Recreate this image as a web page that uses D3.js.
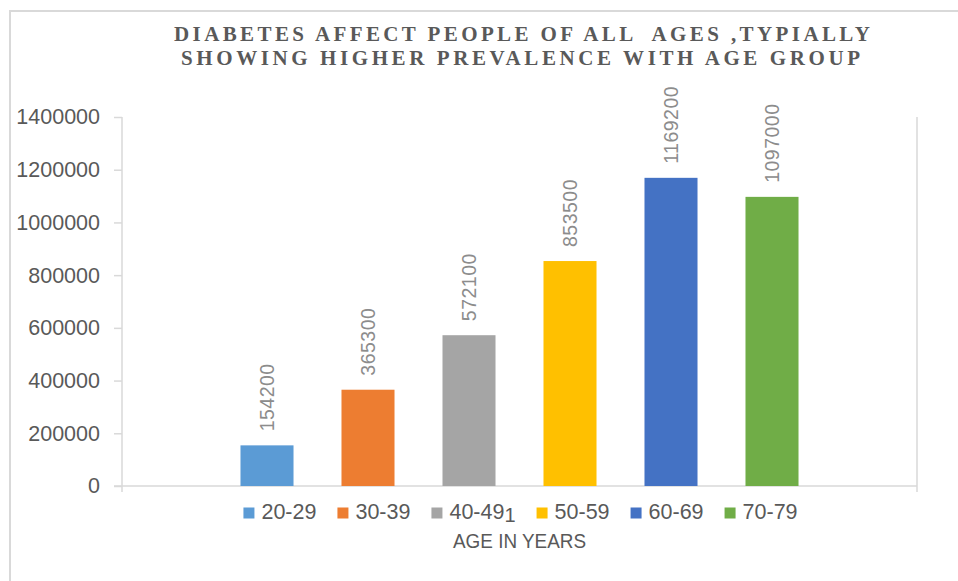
<!DOCTYPE html>
<html>
<head>
<meta charset="utf-8">
<script src="https://cdn.jsdelivr.net/npm/d3@7"></script>
<style>
  html, body { margin: 0; padding: 0; background: #fff; }
  svg { display: block; }
</style>
</head>
<body>
<svg id="chart" width="958" height="581"></svg>
<script>
const categories = ["20-29", "30-39", "40-49", "50-59", "60-69", "70-79"];
const legendSuffix = ["", "", "1", "", "", ""];
const values = [154200, 365300, 572100, 853500, 1169200, 1097000];
const colors = ["#5B9BD5", "#ED7D31", "#A5A5A5", "#FFC000", "#4472C4", "#70AD47"];
const yTicks = [0, 200000, 400000, 600000, 800000, 1000000, 1200000, 1400000];
const titleLines = ["DIABETES AFFECT PEOPLE OF ALL  AGES ,TYPIALLY", "SHOWING HIGHER PREVALENCE WITH AGE GROUP"];
const xTitle = "AGE IN YEARS";

const svg = d3.select("#chart");
const plotL = 122, plotR = 917, plotT = 117, plotB = 486;
const axisColor = "#d9d9d9";
const textColor = "#595959";
const sans = "'Liberation Sans', Arial, sans-serif";

// chart border
svg.append("path")
  .attr("d", `M10,581 L10,11 L958,11`)
  .attr("fill", "none").attr("stroke", "#d9d9d9").attr("stroke-width", 2);

// title
const titleBox = [[174, 870, 40.5], [181, 860, 65]];
titleLines.forEach((t, i) => {
  const [x0, x1, yb] = titleBox[i];
  svg.append("text")
    .attr("x", x0).attr("y", yb)
    .attr("textLength", x1 - x0).attr("lengthAdjust", "spacing")
    .attr("xml:space", "preserve")
    .style("font-family", "'Liberation Serif', 'Times New Roman', serif")
    .style("font-weight", "bold").style("font-size", "21px")
    .attr("fill", textColor)
    .text(t);
});

const y = d3.scaleLinear().domain([0, 1400000]).range([plotB, plotT]);
const mid = (plotL + plotR) / 2;
const x = d3.scaleBand().domain(categories)
  .range([mid - 303, mid + 303]).paddingInner(0.475).paddingOuter(0.2375);

// axis lines
svg.append("line").attr("x1", plotL).attr("x2", plotL).attr("y1", plotT).attr("y2", plotB + 6)
  .attr("stroke", axisColor).attr("stroke-width", 1.5);
svg.append("line").attr("x1", plotR).attr("x2", plotR).attr("y1", plotT).attr("y2", plotB + 6)
  .attr("stroke", axisColor).attr("stroke-width", 1.5);
svg.append("line").attr("x1", plotL - 8).attr("x2", plotR).attr("y1", plotB).attr("y2", plotB)
  .attr("stroke", axisColor).attr("stroke-width", 1.5);

const yAxis = d3.axisLeft(y).tickValues(yTicks).tickSize(8).tickSizeOuter(0).tickPadding(14)
  .tickFormat(d3.format("d"));
const gy = svg.append("g").attr("transform", `translate(${plotL},0)`).call(yAxis);
gy.select(".domain").remove();
gy.selectAll(".tick line").attr("stroke", axisColor).attr("stroke-width", 1.5);
gy.selectAll(".tick text").attr("fill", textColor)
  .style("font-family", sans).style("font-size", "21.5px");

// bars
const data = categories.map((c, i) => ({ c, v: values[i], color: colors[i], suffix: legendSuffix[i] }));
svg.append("g").selectAll("rect").data(data).join("rect")
  .attr("x", d => x(d.c)).attr("width", x.bandwidth())
  .attr("y", d => y(d.v)).attr("height", d => y(0) - y(d.v))
  .attr("fill", d => d.color);

// value labels
svg.append("g").selectAll("text").data(data).join("text")
  .attr("transform", d => `translate(${x(d.c) + x.bandwidth() / 2},${y(d.v) - 14}) rotate(-90)`)
  .attr("dy", "0.35em")
  .attr("fill", "#8c8c8c")
  .style("font-family", sans).style("font-size", "19.5px").style("letter-spacing", "0.5px")
  .text(d => d3.format("d")(d.v));

// legend
const lg = svg.append("g");
const sq = 11, gapText = 7, gapItem = 21;
const items = lg.selectAll("g").data(data).join("g");
items.append("rect").attr("width", sq).attr("height", sq).attr("y", 507.5)
  .attr("fill", d => d.color);
const lt = items.append("text").attr("x", sq + gapText).attr("y", 519)
  .attr("fill", textColor).style("font-family", sans).style("font-size", "21.5px");
lt.append("tspan").text(d => d.c);
lt.filter(d => d.suffix).append("tspan").attr("dy", 3).style("font-size", "20px").text(d => d.suffix);
let widths = [];
items.each(function () { widths.push(this.querySelector("text").getComputedTextLength()); });
const itemW = widths.map(w => sq + gapText + w);
const total = d3.sum(itemW) + gapItem * (itemW.length - 1);
let cx = mid + 1 - total / 2;
items.attr("transform", (d, i) => { const t = `translate(${cx},0)`; cx += itemW[i] + gapItem; return t; });

// x-axis title
svg.append("text")
  .attr("x", mid - 66.5).attr("y", 548)
  .attr("textLength", 133).attr("lengthAdjust", "spacingAndGlyphs")
  .attr("fill", textColor).style("font-family", sans).style("font-size", "21px")
  .text(xTitle);
</script>
</body>
</html>
